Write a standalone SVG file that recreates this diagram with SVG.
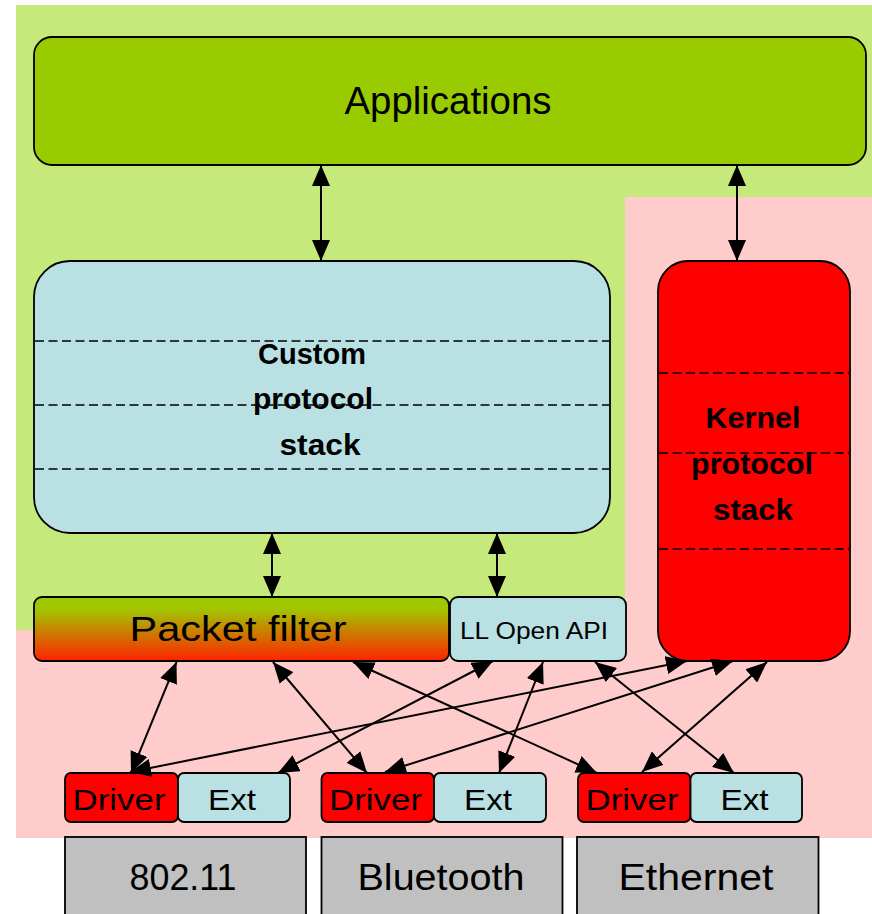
<svg xmlns="http://www.w3.org/2000/svg" width="872" height="914" viewBox="0 0 872 914">
<style>
text{font-family:"Liberation Sans",Arial,sans-serif;fill:#000;text-anchor:middle}
.b{stroke:#000;stroke-width:1.8}
.lb{fill:#b9e0e3}
.red{fill:#ff0000}
.gray{fill:#c0c0c0}
.dash{stroke:#000;stroke-width:1.7;stroke-dasharray:9 4.5;fill:none}
.bold{font-weight:bold;font-size:30px}
.c line{stroke:#000;stroke-width:2;marker-start:url(#ah);marker-end:url(#ah)}
</style>
<defs>
<marker id="ah" viewBox="0 0 21 18" refX="21" refY="9" markerWidth="21" markerHeight="18" orient="auto-start-reverse" markerUnits="userSpaceOnUse"><path d="M0,0 L21,9 L0,18 z" fill="#000"/></marker>
<linearGradient id="pf" x1="0" y1="0" x2="0" y2="1">
<stop offset="0" stop-color="#99cc00"/>
<stop offset="0.2" stop-color="#a3c400"/>
<stop offset="1" stop-color="#ff2200"/>
</linearGradient>
</defs>
<g id="background">
<polygon points="16,5 872,5 872,197 625,197 625,630 16,630" fill="#c6e97c"/>
<polygon points="625,197 872,197 872,838 16,838 16,630 625,630" fill="#ffcccc"/>
</g>
<g id="applications">
<rect class="b" x="34" y="37" width="832" height="128" rx="18" fill="#99cc00"/>
<text x="448" y="114" font-size="38" textLength="207" lengthAdjust="spacingAndGlyphs">Applications</text>
</g>
<g id="custom-stack">
<rect class="b lb" x="34" y="261" width="576" height="272" rx="36"/>
<line class="dash" x1="35" y1="341" x2="609" y2="341"/>
<line class="dash" x1="35" y1="405" x2="609" y2="405"/>
<line class="dash" x1="35" y1="469" x2="609" y2="469"/>
<text class="bold" x="312" y="364" textLength="108" lengthAdjust="spacingAndGlyphs">Custom</text>
<text class="bold" x="313" y="409" textLength="120" lengthAdjust="spacingAndGlyphs">protocol</text>
<text class="bold" x="320" y="455" textLength="81" lengthAdjust="spacingAndGlyphs">stack</text>
</g>
<g id="kernel-stack">
<rect class="b red" x="658" y="261" width="192" height="400" rx="30"/>
<line class="dash" x1="659" y1="373" x2="849" y2="373"/>
<line class="dash" x1="659" y1="453" x2="849" y2="453"/>
<line class="dash" x1="659" y1="549" x2="849" y2="549"/>
<text class="bold" x="753" y="428" textLength="95" lengthAdjust="spacingAndGlyphs">Kernel</text>
<text class="bold" x="752" y="474" textLength="122" lengthAdjust="spacingAndGlyphs">protocol</text>
<text class="bold" x="753" y="520" textLength="80" lengthAdjust="spacingAndGlyphs">stack</text>
</g>
<g id="packet-filter">
<rect class="b" x="34" y="597" width="415" height="64" rx="8" fill="url(#pf)"/>
<text x="238" y="641" font-size="35" textLength="217" lengthAdjust="spacingAndGlyphs">Packet filter</text>
</g>
<g id="ll-open-api">
<rect class="b lb" x="450" y="597" width="176" height="64" rx="8"/>
<text x="534" y="639" font-size="24" textLength="148" lengthAdjust="spacingAndGlyphs">LL Open API</text>
</g>
<g id="driver1">
<rect class="b red" x="65" y="773" width="113" height="49" rx="6"/>
<text x="119" y="810" font-size="30" textLength="93" lengthAdjust="spacingAndGlyphs">Driver</text>
</g>
<g id="ext1">
<rect class="b lb" x="178" y="773" width="112" height="49" rx="6"/>
<text x="232" y="810" font-size="30" textLength="48" lengthAdjust="spacingAndGlyphs">Ext</text>
</g>
<g id="driver2">
<rect class="b red" x="321.5" y="773" width="112.5" height="49" rx="6"/>
<text x="375.5" y="810" font-size="30" textLength="93" lengthAdjust="spacingAndGlyphs">Driver</text>
</g>
<g id="ext2">
<rect class="b lb" x="434" y="773" width="112" height="49" rx="6"/>
<text x="488" y="810" font-size="30" textLength="48" lengthAdjust="spacingAndGlyphs">Ext</text>
</g>
<g id="driver3">
<rect class="b red" x="578" y="773" width="112.5" height="49" rx="6"/>
<text x="632" y="810" font-size="30" textLength="93" lengthAdjust="spacingAndGlyphs">Driver</text>
</g>
<g id="ext3">
<rect class="b lb" x="690.5" y="773" width="111.5" height="49" rx="6"/>
<text x="744.5" y="810" font-size="30" textLength="48" lengthAdjust="spacingAndGlyphs">Ext</text>
</g>
<g id="hw-80211">
<rect class="b gray" x="65" y="837" width="241" height="82"/>
<text x="183" y="890" font-size="37" textLength="107" lengthAdjust="spacingAndGlyphs">802.11</text>
</g>
<g id="hw-bluetooth">
<rect class="b gray" x="321.5" y="837" width="241" height="82"/>
<text x="441" y="890" font-size="37" textLength="167" lengthAdjust="spacingAndGlyphs">Bluetooth</text>
</g>
<g id="hw-ethernet">
<rect class="b gray" x="577" y="837" width="241.5" height="82"/>
<text x="696" y="890" font-size="37" textLength="155" lengthAdjust="spacingAndGlyphs">Ethernet</text>
</g>
<g id="connectors" class="c">
<line x1="321" y1="165" x2="321" y2="261"/>
<line x1="737" y1="165" x2="737" y2="261"/>
<line x1="272" y1="533" x2="272" y2="597"/>
<line x1="497" y1="533" x2="497" y2="597"/>
<line x1="176.5" y1="662" x2="131" y2="773"/>
<line x1="273" y1="662" x2="367" y2="773"/>
<line x1="353" y1="662" x2="597" y2="773"/>
<line x1="493" y1="661" x2="278" y2="773"/>
<line x1="543" y1="662" x2="499" y2="773"/>
<line x1="595" y1="662" x2="734" y2="773"/>
<line x1="687" y1="661" x2="130" y2="772"/>
<line x1="733" y1="661" x2="385" y2="772"/>
<line x1="767" y1="662" x2="642" y2="772"/>
</g>
</svg>
